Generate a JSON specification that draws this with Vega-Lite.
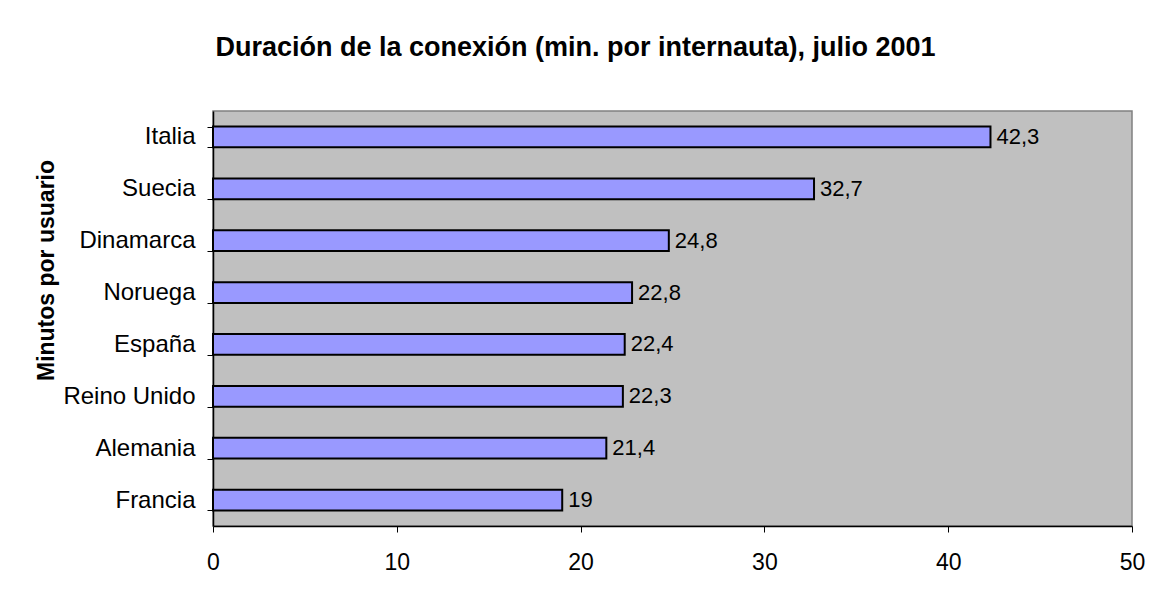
{
  "$schema": "https://vega.github.io/schema/vega-lite/v6.json",
  "width": 919,
  "height": 415,
  "autosize": {"type": "none"},
  "padding": {"left": 213, "top": 111, "right": 17, "bottom": 73},
  "background": "white",
  "config": {
    "font": "Liberation Sans",
    "locale": {"number": {"decimal": ",", "thousands": ".", "grouping": [3], "currency": ["", " €"]}},
    "view": {"fill": "#C0C0C0", "stroke": "#808080", "strokeWidth": 1.5}
  },
  "title": {
    "text": "Duración de la conexión (min. por internauta), julio 2001",
    "font": "Liberation Sans",
    "fontSize": 27,
    "fontWeight": "bold",
    "color": "black",
    "anchor": "middle",
    "dx": -97,
    "offset": 37
  },
  "data": {
    "values": [
      {"pais": "Italia", "min": 42.3},
      {"pais": "Suecia", "min": 32.7},
      {"pais": "Dinamarca", "min": 24.8},
      {"pais": "Noruega", "min": 22.8},
      {"pais": "España", "min": 22.4},
      {"pais": "Reino Unido", "min": 22.3},
      {"pais": "Alemania", "min": 21.4},
      {"pais": "Francia", "min": 19}
    ]
  },
  "encoding": {
    "y": {
      "field": "pais",
      "type": "nominal",
      "sort": null,
      "scale": {"paddingInner": 0.6, "paddingOuter": 0.3},
      "axis": {
        "title": "Minutos por usuario",
        "titleFont": "Liberation Sans",
        "titleFontSize": 23,
        "titleFontWeight": "bold",
        "titleColor": "black",
        "titleAngle": -90,
        "titleAlign": "center",
        "titleBaseline": "middle",
        "titleX": -167,
        "titleY": 159,
        "labelFont": "Liberation Sans",
        "labelFontSize": 24,
        "labelColor": "black",
        "labelPadding": 12,
        "tickBand": "extent",
        "tickSize": 6,
        "tickColor": "black",
        "domainColor": "black",
        "domainWidth": 1.5
      }
    },
    "x": {
      "field": "min",
      "type": "quantitative",
      "scale": {"domain": [0, 50], "nice": false},
      "axis": {
        "title": null,
        "values": [0, 10, 20, 30, 40, 50],
        "format": "d",
        "grid": false,
        "labelFont": "Liberation Sans",
        "labelFontSize": 23,
        "labelColor": "black",
        "labelPadding": 19,
        "tickSize": 6,
        "tickColor": "black",
        "domainColor": "black",
        "domainWidth": 1.5,
        "labelFlush": false
      }
    }
  },
  "layer": [
    {
      "mark": {"type": "bar", "fill": "#9999FF", "stroke": "black", "strokeWidth": 2}
    },
    {
      "mark": {"type": "text", "align": "left", "baseline": "middle", "dx": 6, "font": "Liberation Sans", "fontSize": 22, "color": "black"},
      "encoding": {"text": {"field": "min", "type": "quantitative", "format": "~g"}}
    }
  ]
}
